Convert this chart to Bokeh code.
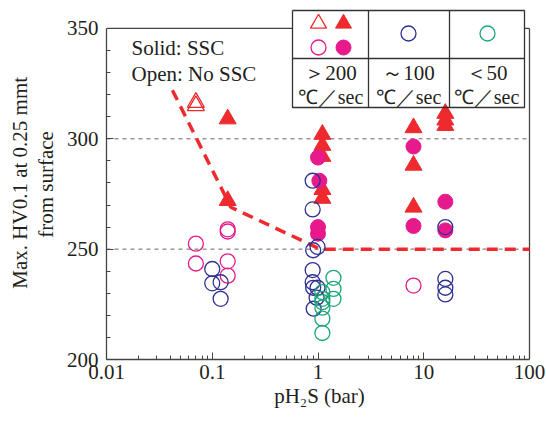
from math import log10, pi
from bokeh.plotting import figure
from bokeh.layouts import row
from bokeh.models import FixedTicker, Label, Range1d
from bokeh.embed import file_html
from bokeh.resources import INLINE

# ---------------- data ----------------
x_ticks = [0.01, 0.1, 1, 10, 100]
x_minor = [m * d for d in (0.01, 0.1, 1, 10) for m in range(2, 10)]
y_ticks = [200, 250, 300, 350]
y_minor = [210, 220, 230, 240, 260, 270, 280, 290, 310, 320, 330, 340]
grid_vals = [250, 300]

tri_open_x = [0.07, 0.07]
tri_open_y = [315, 316.5]
tri_solid_x = [0.14, 0.14, 1.1, 1.1, 1.1, 1.1, 1.1, 8, 8, 8, 16, 16, 16]
tri_solid_y = [309, 272, 302, 297, 292, 277, 273, 305, 288, 269, 311.5, 308.5, 306]
pink_solid_x = [1.0, 1.03, 1.0, 1.0, 8, 8, 16, 16]
pink_solid_y = [291.5, 281, 260, 257, 296.5, 260.5, 271.5, 258.5]
pink_open_x = [0.07, 0.07, 0.14, 0.14, 0.14, 0.14, 8]
pink_open_y = [252.5, 243.5, 259, 258, 244.5, 238, 233.5]
blue_x = [0.1, 0.1, 0.12, 0.12, 0.89, 0.89, 0.9, 0.99, 0.89, 0.89, 0.9, 0.99, 0.97, 0.91, 16, 16, 16, 16]
blue_y = [241, 234.5, 235, 227.5, 281, 268, 249.5, 251, 240.5, 235, 232.5, 232.5, 228, 223, 260, 236.5, 232.5, 229.5]
green_x = [1.4, 1.4, 1.4, 1.1, 1.1, 1.1, 1.1, 1.1, 1.1]
green_y = [237, 232, 227.5, 230.5, 227.5, 226, 223.5, 218.5, 212]
bound_x = [0.042, 0.15, 1.05, 100]
bound_y = [322, 269, 250, 250]

legend_top = ["\uff1e200", "\uff5e100", "\uff1c50"]
legend_unit = "\u2103\uff0fsec"
y_label_lines = ["Max. HV0.1 at 0.25 mmt", "from surface"]

# ---------------- layout ----------------
TOTAL_W, H = 546, 429
LW = 60                      # width of the label strip
W = TOTAL_W - LW
ML, MR, MT, MB = 46, 14, 8, 70
PXD = 105.75   # px per decade
PXY = 2.207    # px per HV unit
FL = LW + ML   # frame left in window px
X0 = 0.01
X1 = 10 ** (log10(X0) + (W - ML - MR) / PXD)
Y0 = 200
Y1 = Y0 + (H - MT - MB) / PXY


def sx(px):  # window pixel -> data x
    return 10 ** (log10(X0) + (px - FL) / PXD)


def sy(py):  # window pixel -> data y
    return Y1 - (py - MT) / PXY


RED = "#ee2a2e"
PINK = "#e8198b"
BLUE = "#2e3192"
GREEN = "#1ea67a"
INK = "#231f20"
FONT = "Liberation Serif"

p = figure(width=W, height=H, x_axis_type="log", output_backend="svg",
           toolbar_location=None, x_range=Range1d(X0, X1), y_range=Range1d(Y0, Y1),
           min_border_left=ML, min_border_right=MR, min_border_top=MT,
           min_border_bottom=MB)
p.outline_line_color = None
p.xgrid.visible = False
p.ygrid.visible = False

for ax in (p.xaxis[0], p.yaxis[0]):
    ax.axis_line_color = "#444444"
    ax.axis_line_width = 1.3
    ax.major_tick_in = 7
    ax.major_tick_out = 0
    ax.minor_tick_in = 4
    ax.minor_tick_out = 0
    ax.major_tick_line_color = "#444444"
    ax.minor_tick_line_color = "#444444"
    ax.major_label_text_font = FONT
    ax.major_label_text_font_size = "21px"
    ax.major_label_text_color = INK
    ax.axis_label_text_font = FONT
    ax.axis_label_text_font_size = "21px"
    ax.axis_label_text_font_style = "normal"
    ax.axis_label_text_color = INK

p.xaxis.ticker = FixedTicker(ticks=x_ticks, minor_ticks=x_minor)
p.yaxis.ticker = FixedTicker(ticks=y_ticks, minor_ticks=y_minor)
p.xaxis.bounds = (0.01, 100)
p.yaxis.bounds = (200, 350)
p.xaxis.major_label_overrides = {0.01: "0.01", 0.1: "0.1", 1: "1", 10: "10", 100: "100"}
p.xaxis.major_label_standoff = 5
p.yaxis.major_label_standoff = 8
p.xaxis.axis_label = "pH\u2082S (bar)"
p.xaxis.axis_label_standoff = 2

# grid lines
p.segment(x0=[0.01] * len(grid_vals), x1=[100] * len(grid_vals), y0=grid_vals, y1=grid_vals,
          line_color="#666666", line_width=1, line_dash="4 4")

# frame top / right
lx0, lx1, lx2, lx3 = sx(292), sx(368), sx(449), sx(524)
ly0, ly1, ly2 = sy(10), sy(58), sy(107)
p.segment(x0=[0.01, lx3, 100], y0=[350, 350, 350], x1=[lx0, 100, 100], y1=[350, 350, 200],
          line_color="#444444", line_width=1.3)

# boundary line
p.line(bound_x, bound_y, line_color=RED, line_width=3.5, line_dash="11 7")

# data markers
p.scatter(tri_solid_x, tri_solid_y, marker="triangle", size=17, fill_color=RED, line_color=RED)
p.scatter(tri_open_x, tri_open_y, marker="triangle", size=17, fill_color=None, line_color=RED, line_width=1.3)
p.scatter(pink_solid_x, pink_solid_y, marker="circle", size=15, fill_color=PINK, line_color=PINK)
p.scatter(pink_open_x, pink_open_y, marker="circle", size=15, fill_color=None, line_color=PINK, line_width=1.3)
p.scatter(blue_x, blue_y, marker="circle", size=15, fill_color=None, line_color=BLUE, line_width=1.3)
p.scatter(green_x, green_y, marker="circle", size=15, fill_color=None, line_color=GREEN, line_width=1.3)

# legend table
p.multi_line(xs=[[lx0, lx3, lx3, lx0, lx0], [lx0, lx3], [lx1, lx1], [lx2, lx2]],
             ys=[[ly0, ly0, ly2, ly2, ly0], [ly1, ly1], [ly0, ly2], [ly0, ly2]],
             line_color="#333333", line_width=1.3)
p.scatter([sx(318)], [sy(23)], marker="triangle", size=16, fill_color=None, line_color=RED, line_width=1.3)
p.scatter([sx(343)], [sy(23)], marker="triangle", size=16, fill_color=RED, line_color=RED)
p.scatter([sx(318)], [sy(47)], marker="circle", size=15, fill_color=None, line_color=PINK, line_width=1.3)
p.scatter([sx(343)], [sy(47)], marker="circle", size=15, fill_color=PINK, line_color=PINK)
p.scatter([sx(408)], [sy(33)], marker="circle", size=15, fill_color=None, line_color=BLUE, line_width=1.3)
p.scatter([sx(487)], [sy(33)], marker="circle", size=15, fill_color=None, line_color=GREEN, line_width=1.3)

for cx, t in zip((330, 408, 486), legend_top):
    p.add_layout(Label(x=sx(cx), y=sy(72), text=t, text_align="center", text_baseline="middle",
                       text_font=FONT, text_font_size="21px", text_color=INK))
    p.add_layout(Label(x=sx(cx), y=sy(96), text=legend_unit, text_align="center", text_baseline="middle",
                       text_font=FONT, text_font_size="20px", text_color=INK))

# annotation text
p.add_layout(Label(x=sx(131), y=sy(47), text="Solid: SSC", text_align="left", text_baseline="middle",
                   text_font=FONT, text_font_size="21px", text_color=INK))
p.add_layout(Label(x=sx(131), y=sy(73), text="Open: No SSC", text_align="left", text_baseline="middle",
                   text_font=FONT, text_font_size="21px", text_color=INK))

# y-axis label strip (a narrow figure on the left)
q = figure(width=LW, height=H, output_backend="svg", toolbar_location=None,
           x_range=Range1d(0, LW), y_range=Range1d(H, 0),
           min_border_left=0, min_border_right=0, min_border_top=0, min_border_bottom=0)
q.axis.visible = False
q.grid.visible = False
q.outline_line_color = None
for (lx, ly), t in zip(((19, 213), (45, 215)), y_label_lines):
    q.add_layout(Label(x=lx, y=ly, text=t, angle=pi / 2, text_align="center", text_baseline="middle",
                       text_font=FONT, text_font_size="21px", text_color=INK))

layout = row(q, p)
open("out.html", "w").write(file_html(layout, INLINE))
